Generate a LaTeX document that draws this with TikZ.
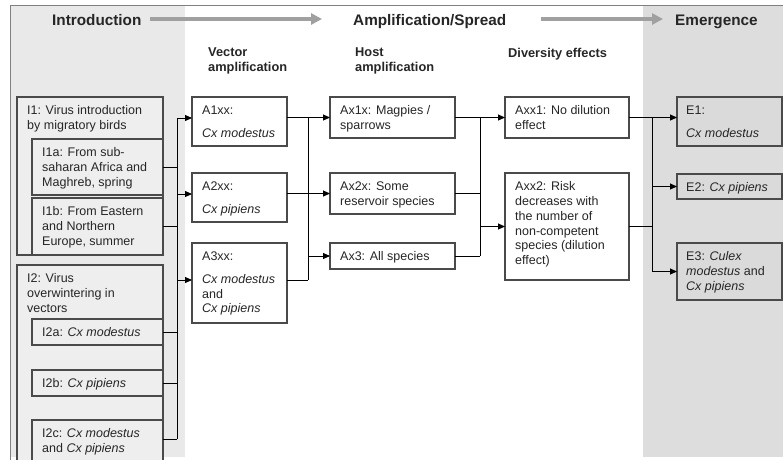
\documentclass[tikz,border=0pt]{standalone}
\usepackage{fontspec}
\setmainfont{Liberation Sans}
\usetikzlibrary{arrows.meta,calc}
\definecolor{leftbg}{HTML}{E9E9E9}
\definecolor{rightbg}{HTML}{DDDDDD}
\definecolor{ifill}{HTML}{EEEEEE}
\definecolor{efill}{HTML}{DADADA}
\definecolor{bordercol}{HTML}{4A4A4A}
\definecolor{framecol}{HTML}{808080}
\definecolor{txtcol}{HTML}{262626}
\definecolor{hdrarrcol}{HTML}{A0A0A0}
\newcommand{\bx}[6]{\node[box,#6,minimum width={#4-#2},minimum height={#5-#3}] (#1) at (#2,#3) {};}
\begin{document}
\begin{tikzpicture}[x=1pt,y=-1pt,
  box/.style={draw=bordercol,line width=1.2pt,inner sep=0pt,outer sep=0pt,anchor=north west},
  ibox/.style={fill=ifill},
  abox/.style={fill=white},
  ebox/.style={fill=efill},
  txt/.style={anchor=north west,inner sep=0pt,align=left,text=txtcol,font=\fontsize{12.5}{14.8}\selectfont},
  hdr/.style={anchor=base west,inner sep=0pt,text=txtcol,font=\fontsize{15.3}{18}\selectfont\bfseries},
  sub/.style={anchor=north west,inner sep=0pt,align=left,text=txtcol,font=\fontsize{12.8}{14.5}\selectfont\bfseries},
  conn/.style={draw=black,line width=0.9pt},
  arr/.style={conn,-{Triangle[length=7pt,width=6pt]}},
  hdrarr/.style={draw=hdrarrcol,line width=4pt,-{Triangle[length=11pt,width=11pt]}}]
\clip (0,0) rectangle (783,459);
% backgrounds
\fill[white] (0,0) rectangle (783,459);
\fill[leftbg] (10,5) rectangle (185,457);
\fill[rightbg] (643,5) rectangle (783,457);
\draw[framecol,line width=1pt] (10,470) -- (10,5) -- (790,5);
% headings
\node[hdr] (hIntro) at (52,25) {Introduction};
\node[hdr] (hAmp) at (353,25) {Amplification/Spread};
\node[hdr] (hEm) at (675,25) {Emergence};
\coordinate (ha1s) at (150,19);
\coordinate (ha1e) at (322,19);
\coordinate (ha2s) at (541,19);
\coordinate (ha2e) at (663,19);
\draw[hdrarr] (ha1s) -- (ha1e);
\draw[hdrarr] (ha2s) -- (ha2e);
\node[sub] (sVec) at (208,47.8) {Vector\\amplification};
\node[sub] (sHost) at (355,47.8) {Host\\amplification};
\node[sub] (sDiv) at (508,47.8) {Diversity effects};
% boxes
\bx{I1}{17}{97}{163}{255}{ibox}
\bx{I1a}{32}{139}{163}{195}{ibox}
\bx{I1b}{32}{198}{163}{255}{ibox}
\bx{I2}{17}{265}{163}{475}{ibox}
\bx{I2a}{32}{319}{163}{345}{ibox}
\bx{I2b}{32}{370}{163}{396}{ibox}
\bx{I2c}{32}{420}{163}{475}{ibox}
\bx{A1}{192}{97}{287}{146}{abox}
\bx{A2}{192}{173}{287}{222}{abox}
\bx{A3}{192}{243}{287}{323}{abox}
\bx{Ax1}{330}{97}{455}{138}{abox}
\bx{Ax2}{330}{173}{455}{214}{abox}
\bx{Ax3}{330}{243}{455}{269}{abox}
\bx{Axx1}{505}{97}{629}{138}{abox}
\bx{Axx2}{505}{173}{629}{280}{abox}
\bx{E1}{677}{97}{782}{146}{ebox}
\bx{E2}{677}{174}{782}{199}{ebox}
\bx{E3}{677}{243}{782}{300}{ebox}
% texts
\node[txt] at ([xshift=10pt,yshift=-8.5pt]I1.north west) {I1: Virus introduction\\by migratory birds};
\node[txt] at ([xshift=10pt,yshift=-8.5pt]I1a.north west) {I1a: From sub-\\saharan Africa and\\Maghreb, spring};
\node[txt] at ([xshift=10pt,yshift=-8.5pt]I1b.north west) {I1b: From Eastern\\and Northern\\Europe, summer};
\node[txt] at ([xshift=10pt,yshift=-8.5pt]I2.north west) {I2: Virus\\overwintering in\\vectors};
\node[txt] at ([xshift=10pt,yshift=-8.5pt]I2a.north west) {I2a: \textit{Cx modestus}};
\node[txt] at ([xshift=10pt,yshift=-8.5pt]I2b.north west) {I2b: \textit{Cx pipiens}};
\node[txt] at ([xshift=10pt,yshift=-8.5pt]I2c.north west) {I2c: \textit{Cx modestus}\\and \textit{Cx pipiens}};
\node[txt] at ([xshift=10pt,yshift=-8.5pt]A1.north west) {A1xx:\\[8pt]\textit{Cx modestus}};
\node[txt] at ([xshift=10pt,yshift=-8.5pt]A2.north west) {A2xx:\\[8pt]\textit{Cx pipiens}};
\node[txt] at ([xshift=10pt,yshift=-8.5pt]A3.north west) {A3xx:\\[8pt]\textit{Cx modestus}\\and\\\textit{Cx pipiens}};
\node[txt] at ([xshift=10pt,yshift=-8.5pt]Ax1.north west) {Ax1x: Magpies /\\sparrows};
\node[txt] at ([xshift=10pt,yshift=-8.5pt]Ax2.north west) {Ax2x: Some\\reservoir species};
\node[txt] at ([xshift=10pt,yshift=-8.5pt]Ax3.north west) {Ax3: All species};
\node[txt] at ([xshift=10pt,yshift=-8.5pt]Axx1.north west) {Axx1: No dilution\\effect};
\node[txt] at ([xshift=10pt,yshift=-8.5pt]Axx2.north west) {Axx2: Risk\\decreases with\\the number of\\non-competent\\species (dilution\\effect)};
\node[txt] at ([xshift=9pt,yshift=-8.5pt]E1.north west) {E1:\\[8pt]\textit{Cx modestus}};
\node[txt] at ([xshift=9pt,yshift=-8.5pt]E2.north west) {E2: \textit{Cx pipiens}};
\node[txt] at ([xshift=9pt,yshift=-8.5pt]E3.north west) {E3: \textit{Culex}\\\textit{modestus} and\\\textit{Cx pipiens}};
% bus coordinates
\coordinate (bus1) at (177,0);
\coordinate (bus2) at (308,0);
\coordinate (bus3) at (480,0);
\coordinate (bus4) at (652,0);
\coordinate (A1in) at ([yshift=3.5pt]A1.west);
\coordinate (A2in) at ([yshift=3.5pt]A2.west);
\coordinate (A3in) at ([yshift=3pt]A3.west);
\coordinate (A3out) at ([yshift=3pt]A3.east);
\coordinate (I2cout) at ([yshift=-19pt]I2c.north east);
% stage 1
\draw[conn] (I1a.east) -- (I1a.east -| bus1);
\draw[conn] (I1b.east) -- (I1b.east -| bus1);
\draw[conn] (I2a.east) -- (I2a.east -| bus1);
\draw[conn] (I2b.east) -- (I2b.east -| bus1);
\draw[conn] (I2cout) -- (I2cout -| bus1);
\draw[conn] (A1in -| bus1) -- (I2cout -| bus1);
\draw[arr] (A1in -| bus1) -- (A1in);
\draw[arr] (A2in -| bus1) -- (A2in);
\draw[arr] (A3in -| bus1) -- (A3in);
% stage 2
\draw[arr] (Ax1.west -| A1.east) -- (Ax1.west);
\draw[arr] (Ax2.west -| A2.east) -- (Ax2.west);
\draw[conn] (A3out) -- (A3out -| bus2);
\draw[conn] (Ax1.west -| bus2) -- (A3out -| bus2);
\draw[arr] (Ax3.west -| bus2) -- (Ax3.west);
% stage 3
\draw[arr] (Ax1.east) -- (Ax1.east -| Axx1.west);
\draw[conn] (Ax2.east) -- (Ax2.east -| bus3);
\draw[conn] (Ax3.east) -- (Ax3.east -| bus3);
\draw[conn] (Ax1.east -| bus3) -- (Ax3.east -| bus3);
\draw[arr] (Axx2.west -| bus3) -- (Axx2.west);
% stage 4
\draw[arr] (Axx1.east) -- (Axx1.east -| E1.west);
\draw[conn] (Axx2.east) -- (Axx2.east -| bus4);
\draw[conn] (Axx1.east -| bus4) -- (E3.west -| bus4);
\draw[arr] (E2.west -| bus4) -- (E2.west);
\draw[arr] (E3.west -| bus4) -- (E3.west);
\end{tikzpicture}
\end{document}
